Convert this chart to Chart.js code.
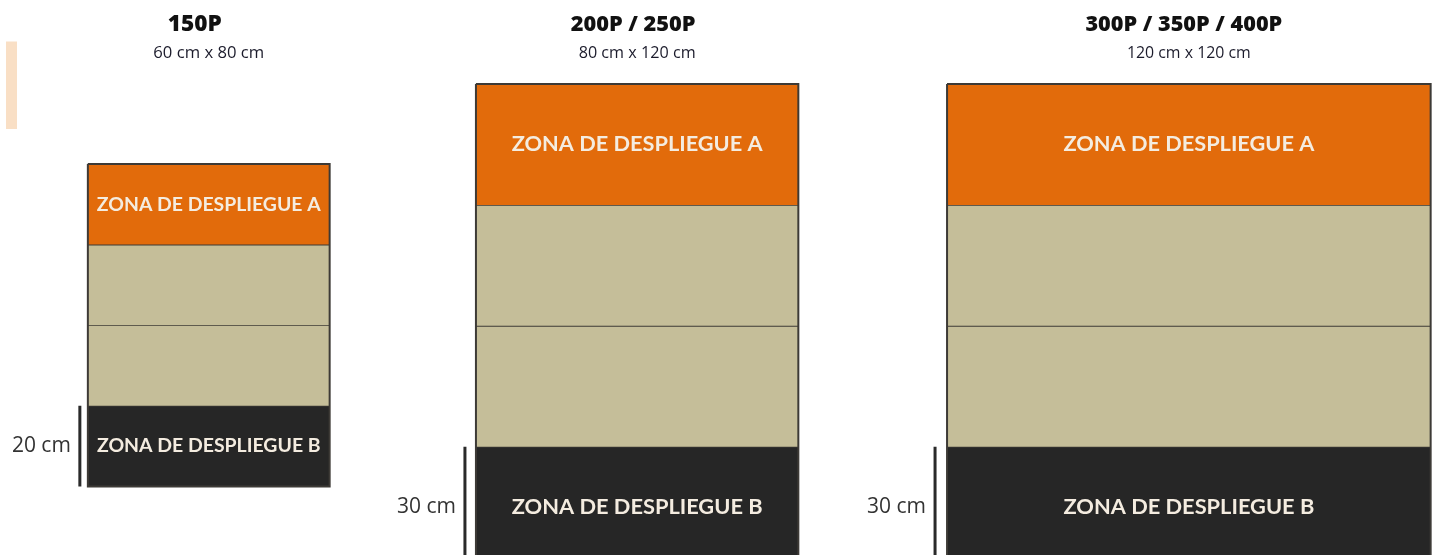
<!DOCTYPE html>
<html>
<head>
<meta charset="utf-8">
<script src="https://cdn.jsdelivr.net/npm/chart.js@4.4.1/dist/chart.umd.min.js"></script>
<style>
  html, body { margin: 0; padding: 0; background: #ffffff; }
  #wrap { position: relative; width: 1438px; height: 555px; }
</style>
</head>
<body>
<div id="wrap"><canvas id="c"></canvas></div>
<script>
// ---------- DATA (cm) ----------
const tableNames       = ['150P', '200P / 250P', '300P / 350P / 400P'];
const tableSizeLabels  = ['60 cm x 80 cm', '80 cm x 120 cm', '120 cm x 120 cm'];
const tableWidths      = [60, 80, 120];
const tableDepths      = [80, 120, 120];
const deploymentDepths = [20, 30, 30];
const deploymentLabels = ['20 cm', '30 cm', '30 cm'];
const zoneNames        = ['ZONA DE DESPLIEGUE A', '', '', 'ZONA DE DESPLIEGUE B'];
const zoneKinds        = ['A', 'mid', 'mid', 'B'];

// ---------- LAYOUT / STYLE ----------
const W = 1438, H = 555, PX_PER_CM = 4.03;
const layout = {
  tableLeft: [21.8, 118.1, 235.0],   // cm from the left of the drawing
  tableTop:  [40.7, 20.85, 20.85],   // cm from the top of the drawing
  guideGapPx: [8, 11, 12],
  titleY: 25, subtitleY: 53,         // px
  titleDxPx: [-14, -4, -5],
  titleWidthPx: [54, 125, 197],
  subtitleWidthPx: [111, 117, 124],
  labelWidthPx: [224, 251, 251],
  accent: {x0: 6, x1: 17, y0: 41.5, y1: 129} // px decorative strip
};
const colors = { A: '#e26b0b', mid: '#c5be99', B: '#262626', edge: '#3d3a36',
                 label: '#f4ece0', guide: '#2a2a2a', accent: '#f9dfc5' };

const cm = px => px / PX_PER_CM;
const datasets = [];

// decorative accent strip
datasets.push({
  data: [{x: cm(layout.accent.x0), y: cm(layout.accent.y0)}, {x: cm(layout.accent.x1), y: cm(layout.accent.y0)}],
  showLine: true, borderWidth: 0, borderColor: 'rgba(0,0,0,0)', pointRadius: 0,
  fill: {value: cm(layout.accent.y1)}, backgroundColor: colors.accent, order: 3
});

const zoneRects = [];
tableNames.forEach((name, t) => {
  const x0 = layout.tableLeft[t], x1 = x0 + tableWidths[t];
  const top = layout.tableTop[t], depth = tableDepths[t], dep = deploymentDepths[t];
  const mid = (depth - 2 * dep) / 2;
  const heights = [dep, mid, mid, dep];
  let y = top;
  heights.forEach((h, z) => {
    zoneRects.push({t, z, x0, x1, y0: y, y1: y + h});
    datasets.push({
      data: [{x: x0, y: y}, {x: x1, y: y}],
      showLine: true, borderWidth: 1.6, borderColor: colors.edge, pointRadius: 0,
      fill: {value: y + h}, backgroundColor: colors[zoneKinds[z]], order: 2
    });
    y += h;
  });
  // outline
  datasets.push({
    data: [{x: x0, y: top}, {x: x1, y: top}, {x: x1, y: top + depth}, {x: x0, y: top + depth}, {x: x0, y: top}],
    showLine: true, borderWidth: 2, borderColor: colors.edge, pointRadius: 0, fill: false, order: 1
  });
  // deployment-depth guide
  const gx = x0 - cm(layout.guideGapPx[t]);
  datasets.push({
    data: [{x: gx, y: top + depth - dep}, {x: gx, y: top + depth}],
    showLine: true, borderWidth: 3, borderColor: colors.guide, pointRadius: 0, fill: false, order: 0
  });
});

// draw text fitted to a target width
function fitText(ctx, text, weight, family, targetW, x, y) {
  ctx.font = weight + ' 20px ' + family;
  const w = ctx.measureText(text).width;
  const size = 20 * targetW / w;
  ctx.font = weight + ' ' + size.toFixed(2) + 'px ' + family;
  ctx.fillText(text, x, y);
}

const textPlugin = {
  id: 'texts',
  afterDatasetsDraw(chart) {
    const {ctx, scales: {x, y}} = chart;
    ctx.save();
    ctx.textBaseline = 'middle';
    tableNames.forEach((name, t) => {
      ctx.textAlign = 'center';
      const cx = x.getPixelForValue(layout.tableLeft[t] + tableWidths[t] / 2);
      ctx.fillStyle = '#111111';
      fitText(ctx, name, '800', '"Open Sans"', layout.titleWidthPx[t], cx + layout.titleDxPx[t], layout.titleY);
      ctx.fillStyle = '#1b1b2b';
      fitText(ctx, tableSizeLabels[t], '400', '"Open Sans"', layout.subtitleWidthPx[t], cx, layout.subtitleY);
      // guide label
      const top = layout.tableTop[t], depth = tableDepths[t], dep = deploymentDepths[t];
      const gx = x.getPixelForValue(layout.tableLeft[t]) - layout.guideGapPx[t];
      ctx.textAlign = 'right';
      ctx.fillStyle = '#333333';
      ctx.font = '21px "Open Sans"';
      ctx.fillText(deploymentLabels[t], gx - 9, y.getPixelForValue(top + depth - dep / 2));
    });
    ctx.textAlign = 'center';
    zoneRects.forEach(r => {
      const label = zoneNames[r.z];
      if (!label) return;
      ctx.fillStyle = colors.label;
      fitText(ctx, label, 'bold', '"Lato"', layout.labelWidthPx[r.t],
              x.getPixelForValue((r.x0 + r.x1) / 2), y.getPixelForValue((r.y0 + r.y1) / 2));
    });
    ctx.restore();
  }
};

new Chart(document.getElementById('c'), {
  type: 'scatter',
  data: { datasets },
  options: {
    responsive: true, maintainAspectRatio: false, animation: false,
    layout: { padding: 0 },
    plugins: { legend: {display: false}, tooltip: {enabled: false} },
    scales: {
      x: { type: 'linear', min: 0, max: W / PX_PER_CM, display: false },
      y: { type: 'linear', min: 0, max: H / PX_PER_CM, reverse: true, display: false }
    }
  },
  plugins: [textPlugin]
});
</script>
</body>
</html>
